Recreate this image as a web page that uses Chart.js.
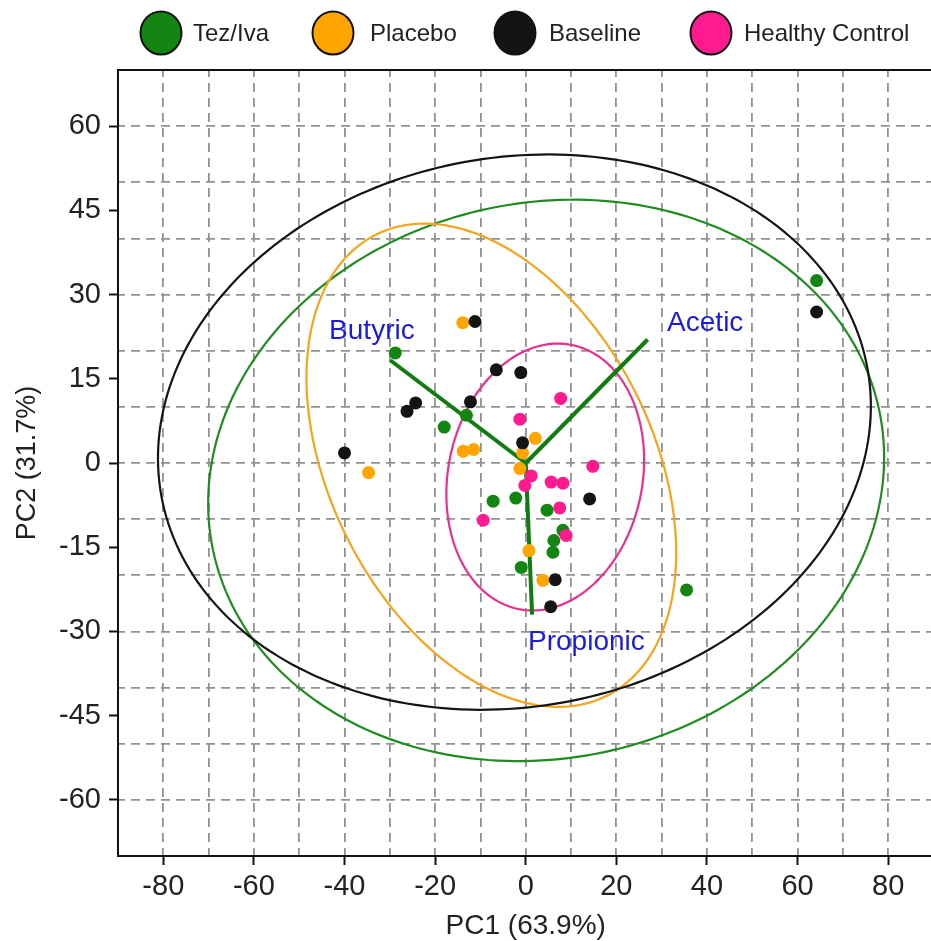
<!DOCTYPE html>
<html><head><meta charset="utf-8">
<script src="https://cdn.jsdelivr.net/npm/chart.js@4.4.1/dist/chart.umd.min.js"></script>
<style>
html,body{margin:0;padding:0;background:#fff;overflow:hidden;width:931px;height:941px;}
#wrap{position:relative;width:940px;height:941px;}
canvas{display:block;}
</style></head><body>
<div id="wrap"><canvas id="c" width="940" height="941"></canvas></div>
<script>
// ---- data ----
const GROUPS = ['Tez/Iva', 'Placebo', 'Baseline', 'Healthy Control'];

const TEZ_X = [-28.8, -13.1, -18.0, -7.2, -2.2, 4.7, 8.2, 6.2, 6.0, -1.0, 64.2, 35.5];
const TEZ_Y = [19.6, 8.5, 6.4, -6.8, -6.25, -8.4, -12.0, -13.8, -15.9, -18.6, 32.5, -22.6];
const PLA_X = [-13.9, -13.8, -11.5, -34.7, 2.1, -0.7, -1.3, 0.7, 3.8];
const PLA_Y = [25.0, 2.1, 2.4, -1.7, 4.4, 1.8, -1.0, -15.6, -20.9];
const BAS_X = [-11.2, -6.5, -1.1, -24.3, -26.2, -12.2, -40.0, -0.7, 14.1, 6.5, 5.5, 64.2];
const BAS_Y = [25.2, 16.6, 16.1, 10.7, 9.2, 10.9, 1.8, 3.6, -6.4, -20.8, -25.6, 26.9];
const HC_X = [7.7, -1.3, 1.2, -0.2, 5.6, 8.2, 14.8, 7.5, -9.4, 8.9];
const HC_Y = [11.5, 7.8, -2.3, -4.0, -3.4, -3.6, -0.6, -8.0, -10.2, -12.9];

// loading vectors (from origin)
const LOADING_NAMES = ['Butyric', 'Acetic', 'Propionic'];
const LOADING_X = [-29.9, 26.9, 1.4];
const LOADING_Y = [18.3, 22.0, -27.0];
// label anchor (left edge, vertical middle)
const LABEL_X = [-43.4, 31.2, 0.5];
const LABEL_Y = [23.5, 24.9, -32.0];

// confidence ellipses: Tez/Iva, Placebo, Baseline, Healthy Control
const ELLIPSE_CX = [4.5, -7.6, -2.5, 4.3];
const ELLIPSE_CY = [-3.1, -0.4, 5.5, -2.5];
const ELLIPSE_A = [74.8, 49.0, 78.9, 24.5];
const ELLIPSE_B = [49.7, 33.4, 49.1, 21.0];
const ELLIPSE_ANGLE = [5.6, -49.2, 5.5, 61.9];

const TICKS_X = [-80, -60, -40, -20, 0, 20, 40, 60, 80];
const TICKS_Y = [-60, -45, -30, -15, 0, 15, 30, 45, 60];
const GRID_X = [-80, -70, -60, -50, -40, -30, -20, -10, 0, 10, 20, 30, 40, 50, 60, 70, 80];
const GRID_Y = [-60, -50, -40, -30, -20, -10, 0, 10, 20, 30, 40, 50, 60];

// ---- styles ----
const POINT_COLORS = ['#128512', '#ffa500', '#141414', '#ff1a8f'];
const ELLIPSE_COLORS = ['#1f8c1f', '#f7a41c', '#151515', '#e8308e'];
const LOAD_COLOR = '#117d11';
const LABEL_COLOR = '#1a1ae0';
const SANS = '"Liberation Sans", Arial, sans-serif';

const pts = (xs, ys) => xs.map((v, i) => ({x: v, y: ys[i]}));
const seriesX = [TEZ_X, PLA_X, BAS_X, HC_X];
const seriesY = [TEZ_Y, PLA_Y, BAS_Y, HC_Y];
const drawOrder = [3, 2, 1, 0];

const datasets = [];
GROUPS.forEach((g, i) => {
  datasets.push({
    label: g, type: 'scatter', data: pts(seriesX[i], seriesY[i]),
    backgroundColor: POINT_COLORS[i], borderWidth: 0, pointRadius: 6.5,
    pointHoverRadius: 6.5, order: drawOrder[i]
  });
});
LOADING_NAMES.forEach((n, i) => {
  datasets.push({
    label: n, type: 'scatter', showLine: true,
    data: [{x: 0, y: 0}, {x: LOADING_X[i], y: LOADING_Y[i]}],
    borderColor: LOAD_COLOR, borderWidth: 4, pointRadius: 0, order: 10,
    borderCapStyle: 'butt'
  });
});

const ellipsePlugin = {
  id: 'ellipses',
  beforeDatasetsDraw(chart) {
    const {ctx, chartArea: ca, scales: {x, y}} = chart;
    ctx.save();
    ctx.beginPath(); ctx.rect(ca.left, ca.top, ca.right - ca.left, ca.bottom - ca.top); ctx.clip();
    ctx.lineWidth = 2.2;
    for (let e = 0; e < ELLIPSE_CX.length; e++) {
      const th = ELLIPSE_ANGLE[e] * Math.PI / 180, c = Math.cos(th), s = Math.sin(th);
      ctx.beginPath();
      const N = 240;
      for (let k = 0; k <= N; k++) {
        const t = 2 * Math.PI * k / N;
        const dx = ELLIPSE_A[e] * Math.cos(t), dy = ELLIPSE_B[e] * Math.sin(t);
        const px = x.getPixelForValue(ELLIPSE_CX[e] + dx * c - dy * s);
        const py = y.getPixelForValue(ELLIPSE_CY[e] + dx * s + dy * c);
        if (k === 0) ctx.moveTo(px, py); else ctx.lineTo(px, py);
      }
      ctx.closePath();
      ctx.strokeStyle = ELLIPSE_COLORS[e];
      ctx.stroke();
    }
    ctx.restore();
  },
  afterDatasetsDraw(chart) {
    const {ctx, chartArea: ca, scales: {x, y}} = chart;
    ctx.save();
    ctx.font = '28px ' + SANS;
    ctx.fillStyle = LABEL_COLOR;
    ctx.textAlign = 'left';
    ctx.textBaseline = 'middle';
    LOADING_NAMES.forEach((n, i) => {
      ctx.fillText(n, x.getPixelForValue(LABEL_X[i]), y.getPixelForValue(LABEL_Y[i]));
    });
    // frame
    ctx.strokeStyle = '#111';
    ctx.lineWidth = 2;
    ctx.strokeRect(ca.left, ca.top, ca.right - ca.left, ca.bottom - ca.top);
    ctx.restore();
  },
  afterDraw(chart) {
    const ctx = chart.ctx;
    const cxs = [161, 333, 515, 711];
    const txs = [193, 370, 549, 744];
    const cy = 33;
    ctx.save();
    GROUPS.forEach((g, i) => {
      ctx.beginPath();
      ctx.ellipse(cxs[i], cy, 20.5, 21.5, 0, 0, 2 * Math.PI);
      ctx.fillStyle = POINT_COLORS[i];
      ctx.fill();
      ctx.lineWidth = 2;
      ctx.strokeStyle = '#111';
      ctx.stroke();
      ctx.fillStyle = '#222';
      ctx.font = '24px ' + SANS;
      ctx.textAlign = 'left';
      ctx.textBaseline = 'middle';
      ctx.fillText(g, txs[i], cy + 1);
    });
    ctx.restore();
  }
};

const tickFont = {family: SANS, size: 29};
const xTitleFont = {family: SANS, size: 28, lineHeight: 1};
const yTitleFont = {family: SANS, size: 27, lineHeight: 1};
const GRID_COLOR = '#929292';

new Chart(document.getElementById('c'), {
  type: 'scatter',
  data: {datasets},
  plugins: [ellipsePlugin],
  options: {
    responsive: false, animation: false, devicePixelRatio: 1,
    layout: {padding: {top: 70, right: 3, left: 0, bottom: 0}},
    plugins: {legend: {display: false}, tooltip: {enabled: false}},
    events: [],
    scales: {
      x: {
        type: 'linear', position: 'bottom', min: -90, max: 90,
        afterBuildTicks: s => { s.ticks = TICKS_X.map(v => ({value: v})); },
        afterFit: s => { s.height = 85; },
        grid: {drawOnChartArea: false, drawTicks: true, tickLength: 9, tickWidth: 2, tickColor: '#111', color: '#111'},
        border: {display: true, color: '#111', width: 2},
        ticks: {font: tickFont, color: '#222', padding: 5, maxRotation: 0, autoSkip: false},
        title: {display: true, text: 'PC1 (63.9%)', font: xTitleFont, color: '#222', padding: {top: 0, bottom: 1}}
      },
      xg: {
        type: 'linear', position: 'bottom', min: -90, max: 90,
        afterBuildTicks: s => { s.ticks = GRID_X.map(v => ({value: v})); },
        afterFit: s => { s.height = 0; },
        grid: {drawOnChartArea: true, drawTicks: false, color: GRID_COLOR, lineWidth: 1.8},
        border: {display: false, dash: [9, 6], dashOffset: 2}
        , ticks: {display: false}
      },
      y: {
        type: 'linear', position: 'left', min: -70, max: 70,
        afterBuildTicks: s => { s.ticks = TICKS_Y.map(v => ({value: v})); },
        afterFit: s => { s.width = 118; },
        grid: {drawOnChartArea: false, drawTicks: true, tickLength: 9, tickWidth: 2, tickColor: '#111', color: '#111'},
        border: {display: true, color: '#111', width: 2},
        ticks: {font: tickFont, color: '#222', padding: 8, autoSkip: false},
        title: {display: true, text: 'PC2 (31.7%)', font: yTitleFont, color: '#222', padding: {top: 14, bottom: 0}}
      },
      yg: {
        type: 'linear', position: 'left', min: -70, max: 70,
        afterBuildTicks: s => { s.ticks = GRID_Y.map(v => ({value: v})); },
        afterFit: s => { s.width = 0; },
        grid: {drawOnChartArea: true, drawTicks: false, color: GRID_COLOR, lineWidth: 1.8},
        border: {display: false, dash: [9, 6], dashOffset: 2},
        ticks: {display: false}
      }
    }
  }
});
</script>
</body></html>
